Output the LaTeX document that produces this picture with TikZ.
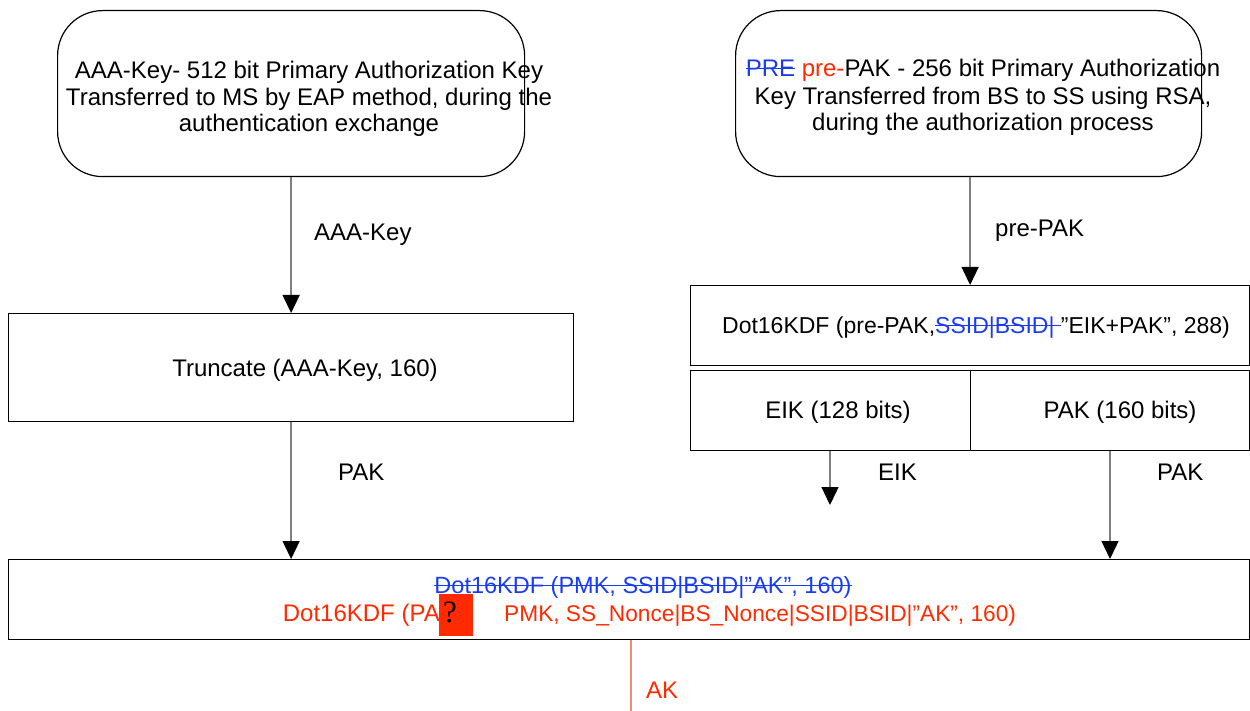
\documentclass[tikz,border=0pt]{standalone}
\usepackage{fontspec}
\setmainfont{Liberation Sans}
\newfontfamily\qfont{Liberation Serif}
\newsavebox\strkbox
\newcommand\strk[1]{\sbox\strkbox{#1}\rlap{\usebox\strkbox}\rule[0.33em]{\wd\strkbox}{1.2pt}}
\usetikzlibrary{arrows.meta}
\definecolor{redtxt}{HTML}{FF2A00}
\definecolor{bluetxt}{HTML}{1A3CF0}
\definecolor{linegray}{HTML}{7F7F7F}
\definecolor{salmon}{HTML}{F58A78}
\tikzset{
  txt/.style={inner sep=0pt, anchor=base, font=\fontsize{24}{27.5}\selectfont},
  lbl/.style={inner sep=0pt, anchor=base west, font=\fontsize{24}{27.5}\selectfont},
  boxr/.style={draw=black, line width=1.2pt, anchor=north west, inner sep=0pt},
  rbox/.style={draw=black, line width=1.2pt, rounded corners=45pt, anchor=north west, inner sep=0pt},
  arr/.style={draw=linegray, line width=1.3pt, -{Triangle[width=17pt,length=18pt,black]}},
}
\begin{document}
\begin{tikzpicture}[x=1pt,y=-1pt]
\useasboundingbox (0,0) rectangle (1250,711);
% boxes
\node[rbox, minimum width=467pt, minimum height=166pt] (tl) at (57,10) {};
\node[rbox, minimum width=466pt, minimum height=166pt] (tr) at (735,10) {};
\node[boxr, minimum width=565pt, minimum height=108pt] (trunc) at (8,313) {};
\node[boxr, minimum width=559pt, minimum height=80pt] (dot) at (690,285) {};
\node[boxr, minimum width=280pt, minimum height=80pt] (eikb) at (690,370) {};
\node[boxr, minimum width=279pt, minimum height=80pt] (pakb) at (970,370) {};
\node[boxr, minimum width=1241pt, minimum height=80pt] (kdf) at (8,559) {};
% texts in top boxes
\node[txt] (tl1) at (309,78.5) {AAA-Key- 512 bit Primary Authorization Key};
\node[txt] (tl2) at (309,105.5) {Transferred to MS by EAP method, during the};
\node[txt] (tl3) at (309,131.5) {authentication exchange};
\node[txt] (tr1) at (983,77) {\textcolor{bluetxt}{\strk{PRE}} \textcolor{redtxt}{pre-}PAK - 256 bit Primary Authorization};
\node[txt] (tr2) at (983,105) {Key Transferred from BS to SS using RSA,};
\node[txt] (tr3) at (983,131) {during the authorization process};
% box texts
\node[txt] (trunctxt) at (305,376.5) {Truncate (AAA-Key, 160)};
\node[txt, font=\fontsize{23}{27}\selectfont] (dottxt) at (976,334) {Dot16KDF (pre-PAK,\textcolor{bluetxt}{\strk{SSID|BSID|\ }}”EIK+PAK”, 288)};
\node[txt] (eiktxt) at (838,418.5) {EIK (128 bits)};
\node[txt] (paktxt) at (1120,418.5) {PAK (160 bits)};
% bottom box texts
\node[txt, font=\fontsize{23.5}{27}\selectfont, text=bluetxt] (oldtxt) at (643,593.5) {\strk{Dot16KDF (PMK, SSID|BSID|”AK”, 160)}};
\node[fill=redtxt, minimum width=34pt, minimum height=42pt, anchor=north west, inner sep=0pt] (qbox) at (439,594) {};
\node[inner sep=0pt, anchor=base, font=\qfont\fontsize{31}{31}\selectfont] (qmark) at (450,622) {?};
\node[inner sep=0pt, anchor=base east, font=\fontsize{24}{27}\selectfont, text=redtxt] (newa) at (440,621.5) {Dot16KDF (PA};
\node[inner sep=0pt, anchor=base west, font=\fontsize{22.7}{27}\selectfont, text=redtxt] (newb) at (504,621.5) {PMK, SS\_Nonce|BS\_Nonce|SSID|BSID|”AK”, 160)};
% connectors
\draw[arr] (tl.south) -- (trunc.north);
\node[lbl] (lab1) at (314,240.5) {AAA-Key};
\draw[arr] (tr.south -| dot.north) -- (dot.north);
\node[lbl] (lab2) at (995,236.5) {pre-PAK};
\draw[arr] (trunc.south) -- (trunc.south |- kdf.north);
\node[lbl] (lab3) at (338,480.5) {PAK};
\coordinate (eikend) at (830,505);
\draw[arr] (eikb.south -| eikend) -- (eikend);
\node[lbl] (lab4) at (878,480.5) {EIK};
\coordinate (pakx) at (1110,500);
\draw[arr] (pakb.south -| pakx) -- (pakx |- kdf.north);
\node[lbl] (lab5) at (1157,480.5) {PAK};
\coordinate (akend) at (631,711);
\draw[salmon, line width=1.6pt] (akend |- kdf.south) -- (akend);
\node[lbl, text=redtxt] (lab6) at (646,698.5) {AK};
\end{tikzpicture}
\end{document}
